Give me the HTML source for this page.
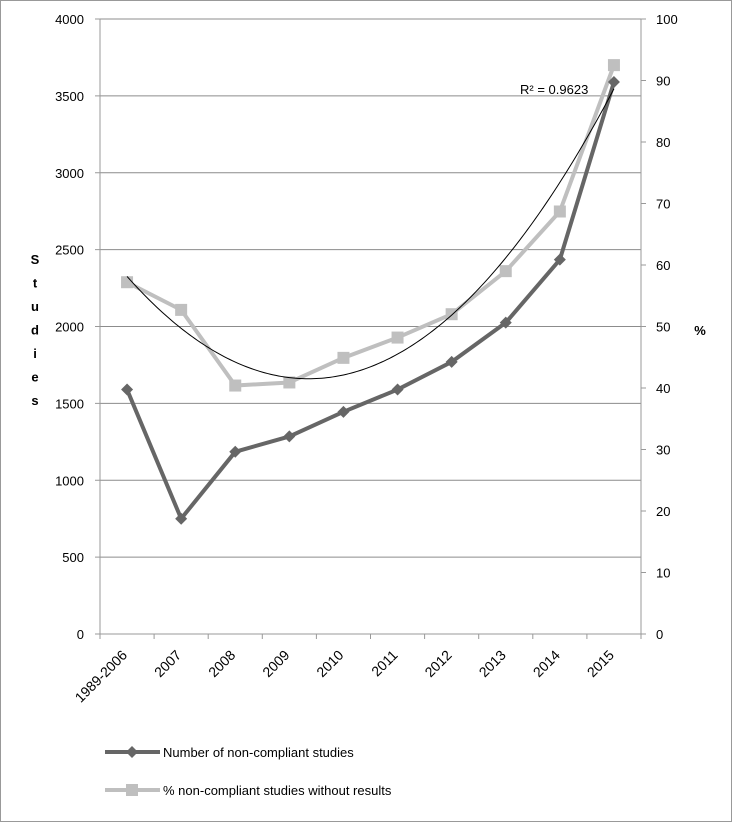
<!DOCTYPE html>
<html><head><meta charset="utf-8"><style>
body{margin:0;background:#fff;}
svg{display:block;font-family:"Liberation Sans",sans-serif;}
</style></head><body>
<svg id="c" width="732" height="822"></svg>
<script>
const categories=["1989-2006","2007","2008","2009","2010","2011","2012","2013","2014","2015"];
const studies=[1590,750,1185,1285,1445,1590,1770,2025,2435,3590];
const pctNoResults=[57.2,52.7,40.4,40.9,44.9,48.2,52,59,68.7,92.5];
const leftTicks=[0,500,1000,1500,2000,2500,3000,3500,4000];
const rightTicks=[0,10,20,30,40,50,60,70,80,90,100];
const NS="http://www.w3.org/2000/svg";
const svg=document.getElementById('c');
const L=100,R=641,T=19,B=634;
const bw=(R-L)/categories.length;
const xs=i=>L+bw*(i+0.5);
const yL=v=>B-(v/4000)*(B-T);
const yR=v=>B-(v/100)*(B-T);
function el(t,a,p){const e=document.createElementNS(NS,t);for(const k in a)e.setAttribute(k,a[k]);(p||svg).appendChild(e);return e;}
let e=el('rect',{x:0.5,y:0.5,width:731,height:821,fill:'#fff',stroke:'#999'});

leftTicks.forEach(v=>{
 if(v>0){e=el('line',{x1:L,x2:R,y1:yL(v),y2:yL(v),stroke:'#8c8c8c'});
 }
 e=el('line',{x1:L-5,x2:L,y1:yL(v),y2:yL(v),stroke:'#999'});
 e=el('text',{x:L-16,y:yL(v)+5,'text-anchor':'end','font-size':13,fill:'#000'});e.textContent=v;
 
});
rightTicks.forEach(v=>{
 el('line',{x1:R,x2:R+5,y1:yR(v),y2:yR(v),stroke:'#999'});
 e=el('text',{x:R+15,y:yR(v)+5,'font-size':13,fill:'#000'});e.textContent=v;
 
});
e=el('line',{x1:L,x2:L,y1:T,y2:B,stroke:'#999'});
e=el('line',{x1:R,x2:R,y1:T,y2:B,stroke:'#999'});
e=el('line',{x1:L,x2:R,y1:B,y2:B,stroke:'#999'});
for(let i=0;i<=categories.length;i++)el('line',{x1:L+bw*i,x2:L+bw*i,y1:B,y2:B+5,stroke:'#999'});
categories.forEach((c,i)=>{
 const x=xs(i)+1,y=B+22;
 e=el('text',{x:x,y:y,'text-anchor':'end','font-size':14,transform:`rotate(-45 ${x} ${y})`});e.textContent=c;
 
});
const st="Studies";
[...st].forEach((ch,i)=>{e=el('text',{x:35,y:264+i*23.5,'text-anchor':'middle','font-size':13,'font-weight':'bold'});e.textContent=ch;
 });
e=el('text',{x:700,y:335,'text-anchor':'middle','font-size':13,'font-weight':'bold'});e.textContent='%';

e=el('polyline',{points:pctNoResults.map((v,i)=>xs(i)+','+yR(v)).join(' '),fill:'none',stroke:'#bfbfbf','stroke-width':4});

pctNoResults.forEach((v,i)=>{e=el('rect',{x:xs(i)-6,y:yR(v)-6,width:12,height:12,fill:'#bfbfbf'});
 });
e=el('polyline',{points:studies.map((v,i)=>xs(i)+','+yL(v)).join(' '),fill:'none',stroke:'#666','stroke-width':4});

studies.forEach((v,i)=>{const x=xs(i),y=yL(v);e=el('polygon',{points:`${x},${y-6} ${x+6},${y} ${x},${y+6} ${x-6},${y}`,fill:'#666'});
 });
(function(){const n=pctNoResults.length;let S=[0,0,0,0,0],Sy=[0,0,0];
 pctNoResults.forEach((y,i)=>{const x=i+1;for(let k=0;k<5;k++)S[k]+=Math.pow(x,k);for(let k=0;k<3;k++)Sy[k]+=y*Math.pow(x,k);});
 const M=[[S[0],S[1],S[2],Sy[0]],[S[1],S[2],S[3],Sy[1]],[S[2],S[3],S[4],Sy[2]]];
 for(let i=0;i<3;i++){for(let j=i+1;j<3;j++){const f=M[j][i]/M[i][i];for(let k=i;k<4;k++)M[j][k]-=f*M[i][k];}}
 const c=[0,0,0];for(let i=2;i>=0;i--){let s=M[i][3];for(let k=i+1;k<3;k++)s-=M[i][k]*c[k];c[i]=s/M[i][i];}
 const pts=[];for(let t=1;t<=n+0.001;t+=0.05){const v=c[0]+c[1]*t+c[2]*t*t;pts.push(xs(t-1)+','+yR(v));}
 e=el('polyline',{points:pts.join(' '),fill:'none',stroke:'#000','stroke-width':1});
 })();
e=el('text',{x:520,y:94,'font-size':13});e.textContent='R² = 0.9623';

e=el('line',{x1:105,x2:160,y1:752,y2:752,stroke:'#666','stroke-width':4});

el('polygon',{points:'132,746 138,752 132,758 126,752',fill:'#666'});
e=el('text',{x:163,y:757,'font-size':13});e.textContent='Number of non-compliant studies';

e=el('line',{x1:105,x2:160,y1:790,y2:790,stroke:'#bfbfbf','stroke-width':4});

el('rect',{x:126,y:784,width:12,height:12,fill:'#bfbfbf'});
e=el('text',{x:163,y:795,'font-size':13});e.textContent='% non-compliant studies without results';

</script>
</body></html>
